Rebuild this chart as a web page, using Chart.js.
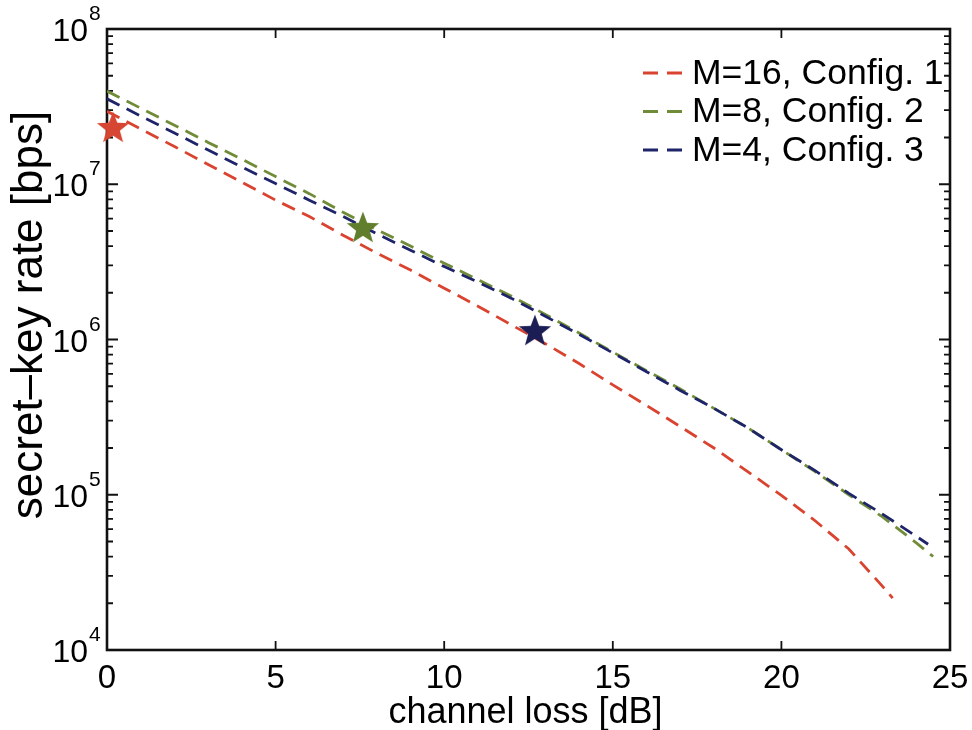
<!DOCTYPE html>
<html>
<head>
<meta charset="utf-8">
<script src="https://cdn.jsdelivr.net/npm/chart.js@4.4.0/dist/chart.umd.min.js"></script>
<style>
    html, body { margin: 0; padding: 0; background: #fff; }
</style>
</head>
<body>
<canvas id="KEYRATE_chart" width="972" height="730"></canvas>
<script>
// channel loss [dB] and secret-key rate [bps]
const loss_M16 = [0, 1, 2, 3, 4, 5, 6, 7, 8, 9, 10, 11, 12, 13, 14, 15, 16, 17, 18, 19, 20, 21, 22, 23, 23.3];
const rate_M16 = [2.95e7, 2.27e7, 1.75e7, 1.34e7, 1.03e7, 7.9e6, 6.2e6, 4.7e6, 3.6e6, 2.8e6, 2.14e6, 1.64e6, 1.24e6,
    9.4e5, 7.0e5, 5.1e5, 3.76e5, 2.75e5, 2.0e5, 1.41e5, 9.9e4, 6.8e4, 4.47e4, 2.57e4, 2.16e4];

const loss_M8 = [0, 1, 2, 3, 4, 5, 6, 7, 8, 9, 10, 11, 12, 13, 14, 15, 16, 17, 18, 19, 20, 21, 22, 23, 24, 24.5];
const rate_M8 = [3.98e7, 3.09e7, 2.4e7, 1.86e7, 1.45e7, 1.12e7, 8.7e6, 6.6e6, 5.1e6, 4.0e6, 3.1e6, 2.43e6, 1.9e6,
    1.45e6, 1.1e6, 8.3e5, 6.3e5, 4.8e5, 3.6e5, 2.7e5, 1.95e5, 1.41e5, 1.0e5, 7.2e4, 4.9e4, 4.0e4];

const loss_M4 = [0, 1, 2, 3, 4, 5, 6, 7, 8, 9, 10, 11, 12, 13, 14, 15, 16, 17, 18, 19, 20, 21, 22, 23, 24, 24.35];
const rate_M4 = [3.55e7, 2.75e7, 2.14e7, 1.66e7, 1.29e7, 1.01e7, 7.9e6, 6.2e6, 4.8e6, 3.76e6, 2.95e6, 2.34e6, 1.84e6,
    1.41e6, 1.08e6, 8.2e5, 6.2e5, 4.7e5, 3.6e5, 2.7e5, 1.95e5, 1.43e5, 1.02e5, 7.5e4, 5.4e4, 4.8e4];

// star markers (operating points)
const star_loss = [0.18, 7.59, 12.69];
const star_rate = [2.34e7, 5.3e6, 1.15e6];

const series_names = ['M=16, Config. 1', 'M=8, Config. 2', 'M=4, Config. 3'];
const series_colors = ['rgb(217, 67, 47)', 'rgb(112, 140, 56)', 'rgb(30, 36, 105)'];
const star_colors = ['rgb(214, 70, 50)', 'rgb(96, 126, 44)', 'rgb(26, 30, 84)'];

const x_ticks = [0, 5, 10, 15, 20, 25];
const y_decades = [4, 5, 6, 7, 8];
const x_title = 'channel loss [dB]';
const y_title = 'secret\u2013key rate [bps]';

const FONT = "'Liberation Sans', Arial, Helvetica, sans-serif";

function toPoints(xs, ys) {
    return xs.map((x, i) => ({ x: x, y: ys[i] }));
}

function makeStar(color, size) {
    const c = document.createElement('canvas');
    c.width = size;
    c.height = size;
    const g = c.getContext('2d');
    const R = size / 2, r = R * 0.42;
    g.beginPath();
    for (let i = 0; i < 10; i++) {
        const rad = (i % 2 === 0 ? R : r);
        const a = -Math.PI / 2 + i * Math.PI / 5;
        g.lineTo(R + rad * Math.cos(a), R + 1.5 + rad * Math.sin(a));
    }
    g.closePath();
    g.fillStyle = color;
    g.fill();
    return c;
}

function lineSet(i, xs, ys, order) {
    return {
        label: series_names[i],
        data: toPoints(xs, ys),
        borderColor: series_colors[i],
        backgroundColor: series_colors[i],
        borderWidth: 2.8,
        borderDash: [14, 8],
        pointRadius: 0,
        fill: false,
        tension: 0,
        order: order
    };
}

// frame + inward ticks under the data, labels and legend on top
const axesBox = {
    id: 'axesBox',
    beforeDatasetsDraw(chart) {
        const { ctx, chartArea: a, scales } = chart;
        ctx.save();
        ctx.strokeStyle = '#111';
        ctx.lineWidth = 1.8;
        ctx.beginPath();
        x_ticks.forEach(v => {
            const px = scales.x.getPixelForValue(v);
            ctx.moveTo(px, a.bottom); ctx.lineTo(px, a.bottom - 9);
            ctx.moveTo(px, a.top); ctx.lineTo(px, a.top + 9);
        });
        y_decades.forEach(d => {
            for (let m = 1; m <= 9; m++) {
                if (d === 8 && m > 1) break;
                const py = scales.y.getPixelForValue(m * Math.pow(10, d));
                const len = m === 1 ? 11 : 6;
                ctx.moveTo(a.left, py); ctx.lineTo(a.left + len, py);
                ctx.moveTo(a.right, py); ctx.lineTo(a.right - len, py);
            }
        });
        ctx.stroke();
        ctx.lineWidth = 2.6;
        ctx.strokeRect(a.left, a.top, a.right - a.left, a.bottom - a.top);
        ctx.restore();
    },
    afterDraw(chart) {
        const { ctx, chartArea: a, scales } = chart;
        ctx.save();
        ctx.fillStyle = '#000';
        ctx.textBaseline = 'alphabetic';

        // x tick labels
        ctx.font = '33px ' + FONT;
        ctx.textAlign = 'center';
        x_ticks.forEach(v => {
            ctx.fillText(String(v), scales.x.getPixelForValue(v), a.bottom + 38);
        });
        // x title
        ctx.font = '36px ' + FONT;
        ctx.fillText(x_title, (a.left + a.right) / 2 - 3, 723);

        // y tick labels 10^n
        y_decades.forEach(d => {
            const py = scales.y.getPixelForValue(Math.pow(10, d));
            ctx.font = '32px ' + FONT;
            ctx.textAlign = 'right';
            ctx.fillText('10', 88, py + 12);
            ctx.font = '21px ' + FONT;
            ctx.textAlign = 'left';
            ctx.fillText(String(d), 89, py - 9);
        });
        // y title
        ctx.save();
        ctx.translate(42, 315);
        ctx.rotate(-Math.PI / 2);
        ctx.font = '44px ' + FONT;
        ctx.textAlign = 'center';
        ctx.fillText(y_title, 0, 0);
        ctx.restore();

        // legend, top right inside the axes
        series_names.forEach((name, i) => {
            const y = a.top + 44 + i * 38.5;
            ctx.strokeStyle = series_colors[i];
            ctx.lineWidth = 2.8;
            ctx.setLineDash([15, 9]);
            ctx.beginPath();
            ctx.moveTo(643, y);
            ctx.lineTo(683, y);
            ctx.stroke();
            ctx.setLineDash([]);
            ctx.font = '35.5px ' + FONT;
            ctx.textAlign = 'left';
            ctx.textBaseline = 'middle';
            ctx.fillText(name, 692, y + 1);
        });
        ctx.restore();
    }
};

const KEYRATE_graph = document.getElementById('KEYRATE_chart').getContext('2d');

const KEYRATE_config = {
    type: 'line',
    data: {
        datasets: [
            lineSet(0, loss_M16, rate_M16, 3),
            lineSet(1, loss_M8, rate_M8, 2),
            lineSet(2, loss_M4, rate_M4, 1),
            {
                label: 'operating points',
                data: toPoints(star_loss, star_rate),
                showLine: false,
                pointStyle: star_colors.map(c => makeStar(c, 34)),
                pointRadius: 17,
                clip: false,
                order: 0
            }
        ]
    },
    options: {
        responsive: false,
        animation: false,
        layout: { padding: { top: 29, right: 22, left: 0, bottom: 0 } },
        scales: {
            x: {
                type: 'linear',
                min: 0,
                max: 25,
                grid: { display: false },
                border: { display: false },
                ticks: { display: false, stepSize: 5 },
                afterFit: s => { s.height = 80; }
            },
            y: {
                type: 'logarithmic',
                min: 1e4,
                max: 1e8,
                grid: { display: false },
                border: { display: false },
                ticks: { display: false },
                afterFit: s => { s.width = 107; }
            }
        },
        plugins: {
            legend: { display: false },
            tooltip: { enabled: false }
        }
    },
    plugins: [axesBox]
};

const KEYRATE_chart = new Chart(KEYRATE_graph, KEYRATE_config);
</script>
</body>
</html>
